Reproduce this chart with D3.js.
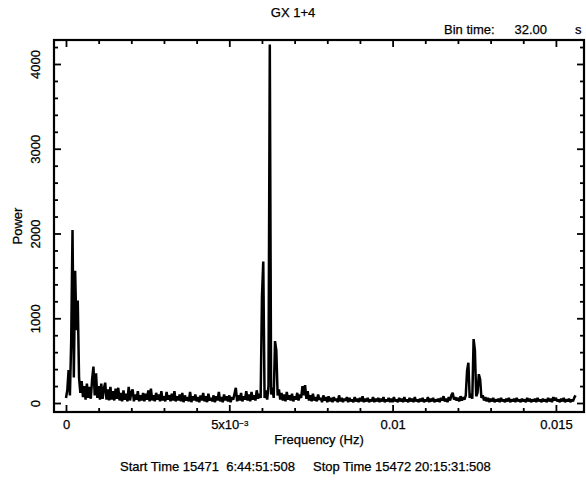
<!DOCTYPE html>
<html>
<head>
<meta charset="utf-8">
<script src="https://cdn.jsdelivr.net/npm/d3@7"></script>
<style>
body { margin: 0; background: #fff; }
text { font-family: "Liberation Sans", Arial, Helvetica, sans-serif; fill: #000; stroke: #000; stroke-width: 0.25px; }
</style>
</head>
<body>
<div id="chart"></div>
<script>
var w = 586, h = 484
var plot_left = 54, plot_right = 584, plot_top = 40, plot_bottom = 412
var fs = 13

// periodogram bin width (Hz), power
var df = 0.00004
var power = [
  60, 150, 390, 90, 740, 2040, 300, 1560, 860, 1210, 300, 120, 260, 70, 200, 40, 230, 60, 190, 50,
  280, 430, 90, 350, 60, 200, 40, 230, 50, 170, 240, 40, 160, 30, 190, 40, 140, 30, 170, 50,
  180, 30, 120, 20, 150, 40, 110, 20, 190, 30, 130, 160, 20, 100, 40, 140, 20, 90, 30, 120,
  20, 110, 40, 150, 20, 170, 30, 90, 20, 120, 40, 100, 20, 140, 30, 80, 20, 130, 40, 90,
  20, 110, 30, 140, 20, 80, 30, 100, 20, 120, 10, 90, 30, 70, 20, 130, 10, 80, 30, 100,
  20, 70, 10, 90, 30, 120, 20, 80, 10, 110, 30, 60, 20, 90, 10, 80, 30, 130, 20, 70,
  10, 100, 30, 80, 20, 90, 10, 70, 40, 110, 180, 20, 90, 30, 120, 20, 80, 40, 140, 30,
  100, 20, 130, 40, 90, 30, 150, 50, 110, 60, 1250, 1670, 60, 150, 40, 200, 4230, 100, 180, 60,
  730, 620, 90, 160, 40, 120, 30, 100, 20, 130, 40, 90, 30, 110, 20, 80, 40, 120, 30, 100,
  60, 200, 90, 210, 50, 140, 30, 90, 20, 110, 30, 70, 20, 100, 40, 60, 10, 90, 30, 70,
  10, 80, 20, 60, 10, 70, 30, 50, 10, 90, 20, 60, 10, 50, 30, 70, 10, 60, 20, 40,
  10, 70, 20, 50, 10, 60, 20, 80, 10, 50, 20, 60, 10, 40, 20, 70, 10, 50, 20, 60,
  10, 50, 20, 70, 10, 40, 20, 60, 10, 50, 10, 70, 20, 40, 10, 60, 20, 50, 10, 70,
  20, 40, 10, 60, 20, 50, 10, 70, 20, 40, 10, 50, 20, 60, 10, 40, 20, 70, 10, 50,
  20, 60, 10, 40, 20, 50, 10, 60, 30, 80, 20, 50, 10, 70, 30, 90, 120, 40, 70, 30,
  60, 20, 80, 30, 70, 40, 90, 380, 475, 60, 110, 50, 755, 620, 80, 120, 340, 280, 60, 90,
  30, 70, 20, 60, 10, 50, 20, 60, 10, 40, 20, 50, 10, 60, 20, 40, 10, 50, 20, 60,
  10, 40, 20, 50, 10, 60, 20, 40, 10, 50, 20, 40, 10, 60, 20, 50, 10, 40, 20, 50,
  10, 60, 20, 40, 10, 50, 20, 40, 10, 60, 20, 50, 10, 70, 30, 60, 20, 40, 10, 50,
  20, 60, 10, 40, 20, 50, 10, 40, 20, 60, 90
]

var x_major = [0, 0.005, 0.01, 0.015]
var x_minor = [0.001, 0.002, 0.003, 0.004, 0.006, 0.007, 0.008, 0.009, 0.011, 0.012, 0.013, 0.014]
var y_major = [0, 1000, 2000, 3000, 4000]
var y_minor = [200, 400, 600, 800, 1200, 1400, 1600, 1800, 2200, 2400, 2600, 2800, 3200, 3400, 3600, 3800, 4200]

var title = "GX 1+4"
var bin_text = ["Bin time:", "32.00", "s"]
var x_title = "Frequency (Hz)"
var y_title = "Power"
var foot = "Start Time 15471  6:44:51:508     Stop Time 15472 20:15:31:508"

var svg = d3.select("#chart").append("svg")
  .attr("width", w)
  .attr("height", h)

var x = d3.scaleLinear().domain([-0.000367, 0.01586]).range([plot_left, plot_right])
var y = d3.scaleLinear().domain([-106, 4283]).range([plot_bottom, plot_top])

var fmtX = function(d) {
  if (d === 0) return "0"
  if (d === 0.005) return "5x10"
  return String(d)
}

// bottom axis: labelled major ticks + minor ticks, all pointing inward
var gb = svg.append("g").attr("transform", "translate(0," + plot_bottom + ")")
gb.call(d3.axisBottom(x).tickValues(x_major).tickSize(-7).tickPadding(8).tickFormat(fmtX))
gb.append("g").call(d3.axisBottom(x).tickValues(x_minor).tickSize(-4).tickFormat(""))
gb.selectAll("text").attr("font-size", fs).attr("font-family", null)
gb.selectAll(".tick text").filter(function(d){ return d === 0.005 })
  .append("tspan").attr("dy", "-0.45em").attr("font-size", 8).text("\u22123")

var gt = svg.append("g").attr("transform", "translate(0," + plot_top + ")")
gt.call(d3.axisTop(x).tickValues(x_major).tickSize(-7).tickFormat(""))
gt.append("g").call(d3.axisTop(x).tickValues(x_minor).tickSize(-4).tickFormat(""))

var gl = svg.append("g").attr("transform", "translate(" + plot_left + ",0)")
gl.call(d3.axisLeft(y).tickValues(y_major).tickSize(-7).tickFormat(d3.format("d")))
gl.append("g").call(d3.axisLeft(y).tickValues(y_minor).tickSize(-4).tickFormat(""))
gl.selectAll(".tick text")
  .attr("font-size", fs).attr("font-family", null)
  .attr("x", 0).attr("y", -14).attr("dy", null)
  .attr("text-anchor", "middle")
  .attr("transform", "rotate(-90)")

var gr = svg.append("g").attr("transform", "translate(" + plot_right + ",0)")
gr.call(d3.axisRight(y).tickValues(y_major).tickSize(-7).tickFormat(""))
gr.append("g").call(d3.axisRight(y).tickValues(y_minor).tickSize(-4).tickFormat(""))

svg.selectAll(".domain").remove()
svg.selectAll(".tick line").attr("stroke", "#000").attr("stroke-width", 1.8)

svg.append("rect")
  .attr("x", plot_left).attr("y", plot_top)
  .attr("width", plot_right - plot_left).attr("height", plot_bottom - plot_top)
  .attr("fill", "none").attr("stroke", "#000").attr("stroke-width", 2.2)

var line = d3.line()
  .x(function(d, i){ return x(i * df) })
  .y(function(d){ return y(d) })

svg.append("path")
  .datum(power)
  .attr("d", line)
  .attr("fill", "none")
  .attr("stroke", "#000")
  .attr("stroke-width", 2.5)
  .attr("stroke-linejoin", "bevel")

svg.append("text").attr("x", w / 2).attr("y", 17).attr("text-anchor", "middle")
  .attr("font-size", fs).text(title)

svg.append("text").attr("x", 444).attr("y", 34).attr("font-size", fs).text(bin_text[0])
svg.append("text").attr("x", 547).attr("y", 34).attr("text-anchor", "end").attr("font-size", fs).text(bin_text[1])
svg.append("text").attr("x", 575).attr("y", 34).attr("font-size", fs).text(bin_text[2])

svg.append("text").attr("x", (plot_left + plot_right) / 2).attr("y", 444)
  .attr("text-anchor", "middle").attr("font-size", fs).text(x_title)

svg.append("text").attr("transform", "translate(22," + ((plot_top + plot_bottom) / 2) + ") rotate(-90)")
  .attr("text-anchor", "middle").attr("font-size", fs).text(y_title)

svg.append("text").attr("x", 120).attr("y", 471).attr("font-size", fs)
  .style("white-space", "pre").text(foot)
</script>
</body>
</html>
